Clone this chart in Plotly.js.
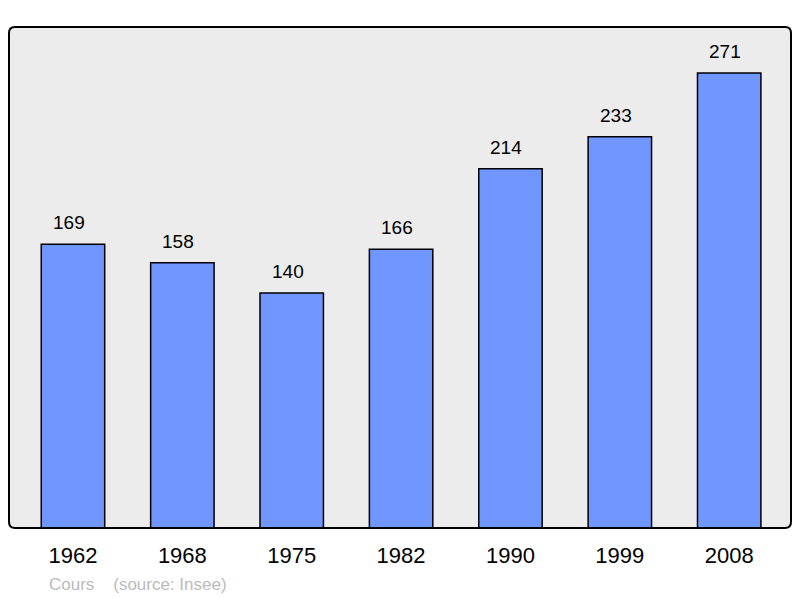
<!DOCTYPE html>
<html>
<head>
<meta charset="utf-8">
<script src="https://cdn.plot.ly/plotly-3.0.1.min.js"></script>
<style>
  body { margin: 0; background: #fff; }
  #chart { width: 800px; height: 598px; }
</style>
</head>
<body>
<div id="chart"></div>
<script>
// years of the census and population count
const years = ['1962', '1968', '1975', '1982', '1990', '1999', '2008'];
const population = [169, 158, 140, 166, 214, 233, 271];

const bars = {
    type: 'bar',
    x: years,
    y: population,
    width: 0.58,
    marker: {
        color: '#7096ff',
        line: { color: '#000', width: 1.5 }
    },
    hoverinfo: 'skip'
};

// value labels above each bar
const labels = years.map((yr, i) => ({
    xref: 'x',
    yref: 'y',
    x: i,
    y: population[i],
    text: String(population[i]),
    showarrow: false,
    yanchor: 'bottom',
    xshift: -4,
    yshift: 9,
    font: { family: 'Liberation Sans, Arial, sans-serif', size: 19, color: '#000' }
}));

// rounded frame round the plot area
const rx = 6 / 782, ry = 6 / 501;
const frame = 'M ' + rx + ',0 L ' + (1 - rx) + ',0 Q 1,0 1,' + ry +
    ' L 1,' + (1 - ry) + ' Q 1,1 ' + (1 - rx) + ',1 L ' + rx + ',1 Q 0,1 0,' + (1 - ry) +
    ' L 0,' + ry + ' Q 0,0 ' + rx + ',0 Z';

const layout = {
    width: 800,
    height: 598,
    margin: { l: 9, r: 9, t: 27, b: 70 },
    paper_bgcolor: '#fff',
    plot_bgcolor: '#ececec',
    showlegend: false,
    xaxis: {
        type: 'category',
        range: [-0.585, 6.565],
        showgrid: false,
        zeroline: false,
        showline: false,
        ticks: '',
        ticklabelstandoff: 12,
        tickfont: { family: 'Liberation Sans, Arial, sans-serif', size: 22, color: '#000' }
    },
    yaxis: {
        range: [0, 298.4],
        showgrid: false,
        zeroline: false,
        showline: false,
        showticklabels: false,
        ticks: ''
    },
    shapes: [{
        type: 'path',
        xref: 'paper',
        yref: 'paper',
        path: frame,
        line: { color: '#000', width: 2 },
        layer: 'above'
    }],
    annotations: labels.concat([{
        xref: 'paper',
        yref: 'paper',
        x: 38 / 782,
        y: 0,
        xanchor: 'left',
        yanchor: 'top',
        yshift: -45,
        showarrow: false,
        text: 'Cours&nbsp;&nbsp;&nbsp;&nbsp;(source: Insee)',
        font: { family: 'Liberation Sans, Arial, sans-serif', size: 17, color: '#bbbbbb' }
    }])
};

Plotly.newPlot('chart', [bars], layout, { displayModeBar: false, staticPlot: true });
</script>
</body>
</html>
